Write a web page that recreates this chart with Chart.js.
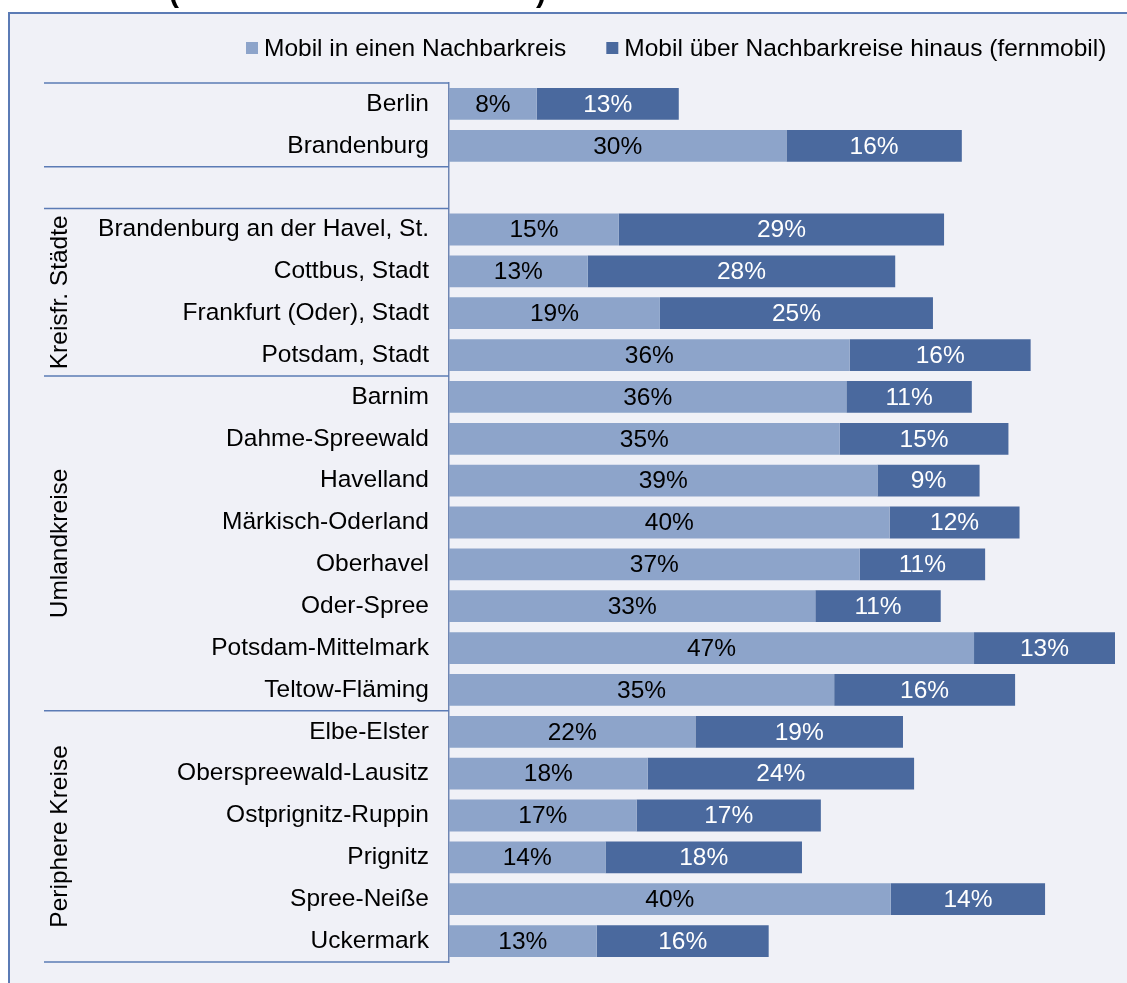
<!DOCTYPE html>
<html>
<head>
<meta charset="utf-8">
<script src="https://cdn.jsdelivr.net/npm/chart.js@4"></script>
<style>
  html, body { margin: 0; padding: 0; background: #ffffff; overflow: hidden; }
  #frame {
    position: absolute; left: 8px; top: 12px; width: 1200px; height: 1100px;
    border-left: 2px solid #5b7bb5; border-top: 2px solid #5b7bb5;
    background: #f0f1f7;
  }
  #wrap { position: absolute; left: 0; top: 0; width: 1127px; height: 983px; }
</style>
</head>
<body>
<div id="frame"></div>
<div id="wrap"><canvas id="mobChart"></canvas></div>
<script>
// Kreise / Länder (leere Zeile als Abstand)
const regions = [
  'Berlin', 'Brandenburg', '',
  'Brandenburg an der Havel, St.', 'Cottbus, Stadt', 'Frankfurt (Oder), Stadt', 'Potsdam, Stadt',
  'Barnim', 'Dahme-Spreewald', 'Havelland', 'Märkisch-Oderland', 'Oberhavel', 'Oder-Spree',
  'Potsdam-Mittelmark', 'Teltow-Fläming',
  'Elbe-Elster', 'Oberspreewald-Lausitz', 'Ostprignitz-Ruppin', 'Prignitz', 'Spree-Neiße', 'Uckermark'
];

// Mobil in einen Nachbarkreis (%)
const nachbar = [7.9, 30.4, null, 15.3, 12.5, 19.0, 36.1, 35.8, 35.2, 38.6, 39.7, 37.0, 33.0, 47.3, 34.7,
                 22.2, 17.9, 16.9, 14.1, 39.8, 13.3];
// Mobil über Nachbarkreise hinaus (fernmobil) (%)
const fern = [12.8, 15.8, null, 29.3, 27.7, 24.6, 16.3, 11.3, 15.2, 9.2, 11.7, 11.3, 11.3, 12.7, 16.3,
              18.7, 24.0, 16.6, 17.7, 13.9, 15.5];

// Gruppen (Index der ersten und letzten Zeile)
const groupNames = ['', '', 'Kreisfr. Städte', 'Umlandkreise', 'Periphere Kreise'];
const groupFirst = [0, 2, 3, 7, 15];
const groupLast  = [1, 2, 6, 14, 20];

const lightBlue = '#8da4ca';
const darkBlue = '#4a699e';
const lineBlue = '#5b7bb5';
const FONT = '"Liberation Sans", Arial, sans-serif';
const FSIZE = 24.5;

// Gruppenlinien, Gruppentitel, Legende, Werte
const extras = {
  id: 'extras',
  afterDatasetsDraw(chart) {
    const ctx = chart.ctx;
    const y = chart.scales.y;
    const area = chart.chartArea;
    const half = (y.getPixelForValue(1) - y.getPixelForValue(0)) / 2;

    ctx.save();
    // separator lines
    ctx.strokeStyle = lineBlue;
    ctx.lineWidth = 1.5;
    groupFirst.forEach(g => {
      const top = y.getPixelForValue(g) - half;
      ctx.beginPath();
      ctx.moveTo(44, top);
      ctx.lineTo(area.left, top);
      ctx.stroke();
    });
    const bottom = y.getPixelForValue(groupLast[groupLast.length - 1]) + half;
    ctx.beginPath();
    ctx.moveTo(44, bottom);
    ctx.lineTo(area.left, bottom);
    ctx.stroke();

    // rotated group titles
    ctx.fillStyle = '#000';
    ctx.font = FSIZE + 'px ' + FONT;
    ctx.textAlign = 'center';
    ctx.textBaseline = 'middle';
    groupNames.forEach((name, i) => {
      if (!name) return;
      const mid = (y.getPixelForValue(groupFirst[i]) + y.getPixelForValue(groupLast[i])) / 2;
      ctx.save();
      ctx.translate(60, mid);
      ctx.rotate(-Math.PI / 2);
      ctx.fillText(name, 0, 0);
      ctx.restore();
    });

    // value labels in the bars
    chart.data.datasets.forEach((ds, di) => {
      const meta = chart.getDatasetMeta(di);
      meta.data.forEach((bar, idx) => {
        const v = ds.data[idx];
        if (v == null) return;
        ctx.fillStyle = di === 0 ? '#000' : '#fff';
        ctx.fillText(Math.round(v) + '%', (bar.x + bar.base) / 2, bar.y + 1);
      });
    });

    // legend
    ctx.textAlign = 'left';
    let lx = 246;
    chart.data.datasets.forEach(ds => {
      ctx.fillStyle = ds.backgroundColor;
      ctx.fillRect(lx, 42, 12, 12);
      ctx.fillStyle = '#000';
      ctx.fillText(ds.label, lx + 18, 49);
      lx += 18 + ctx.measureText(ds.label).width + 40;
    });

    // cut-off title above the frame
    ctx.font = 'bold 30px ' + FONT;
    ctx.textBaseline = 'alphabetic';
    ctx.fillText('(', 169, 2);
    ctx.fillText(')', 536, 2);
    ctx.restore();
  }
};

const ctx = document.getElementById('mobChart').getContext('2d');
const mobChart = new Chart(ctx, {
  type: 'bar',
  data: {
    labels: regions,
    datasets: [
      { label: 'Mobil in einen Nachbarkreis', data: nachbar, backgroundColor: lightBlue },
      { label: 'Mobil über Nachbarkreise hinaus (fernmobil)', data: fern, backgroundColor: darkBlue }
    ]
  },
  options: {
    indexAxis: 'y',
    responsive: true,
    maintainAspectRatio: false,
    animation: false,
    datasets: { bar: { barPercentage: 0.76, categoryPercentage: 1 } },
    layout: { padding: { top: 83, right: 12, bottom: 21, left: 0 } },
    plugins: { legend: { display: false }, tooltip: { enabled: false } },
    scales: {
      x: { stacked: true, display: false, min: 0, max: 60 },
      y: {
        stacked: true,
        grid: { display: false, drawTicks: false },
        border: { display: true, color: '#6f86b3', width: 1.5 },
        ticks: { color: '#000', font: { family: FONT, size: FSIZE }, padding: 20, autoSkip: false },
        afterFit(scale) {
          scale.width = 449;
          scale.paddingTop = 0;
          scale.paddingBottom = 0;
        }
      }
    }
  },
  plugins: [extras]
});
</script>
</body>
</html>
